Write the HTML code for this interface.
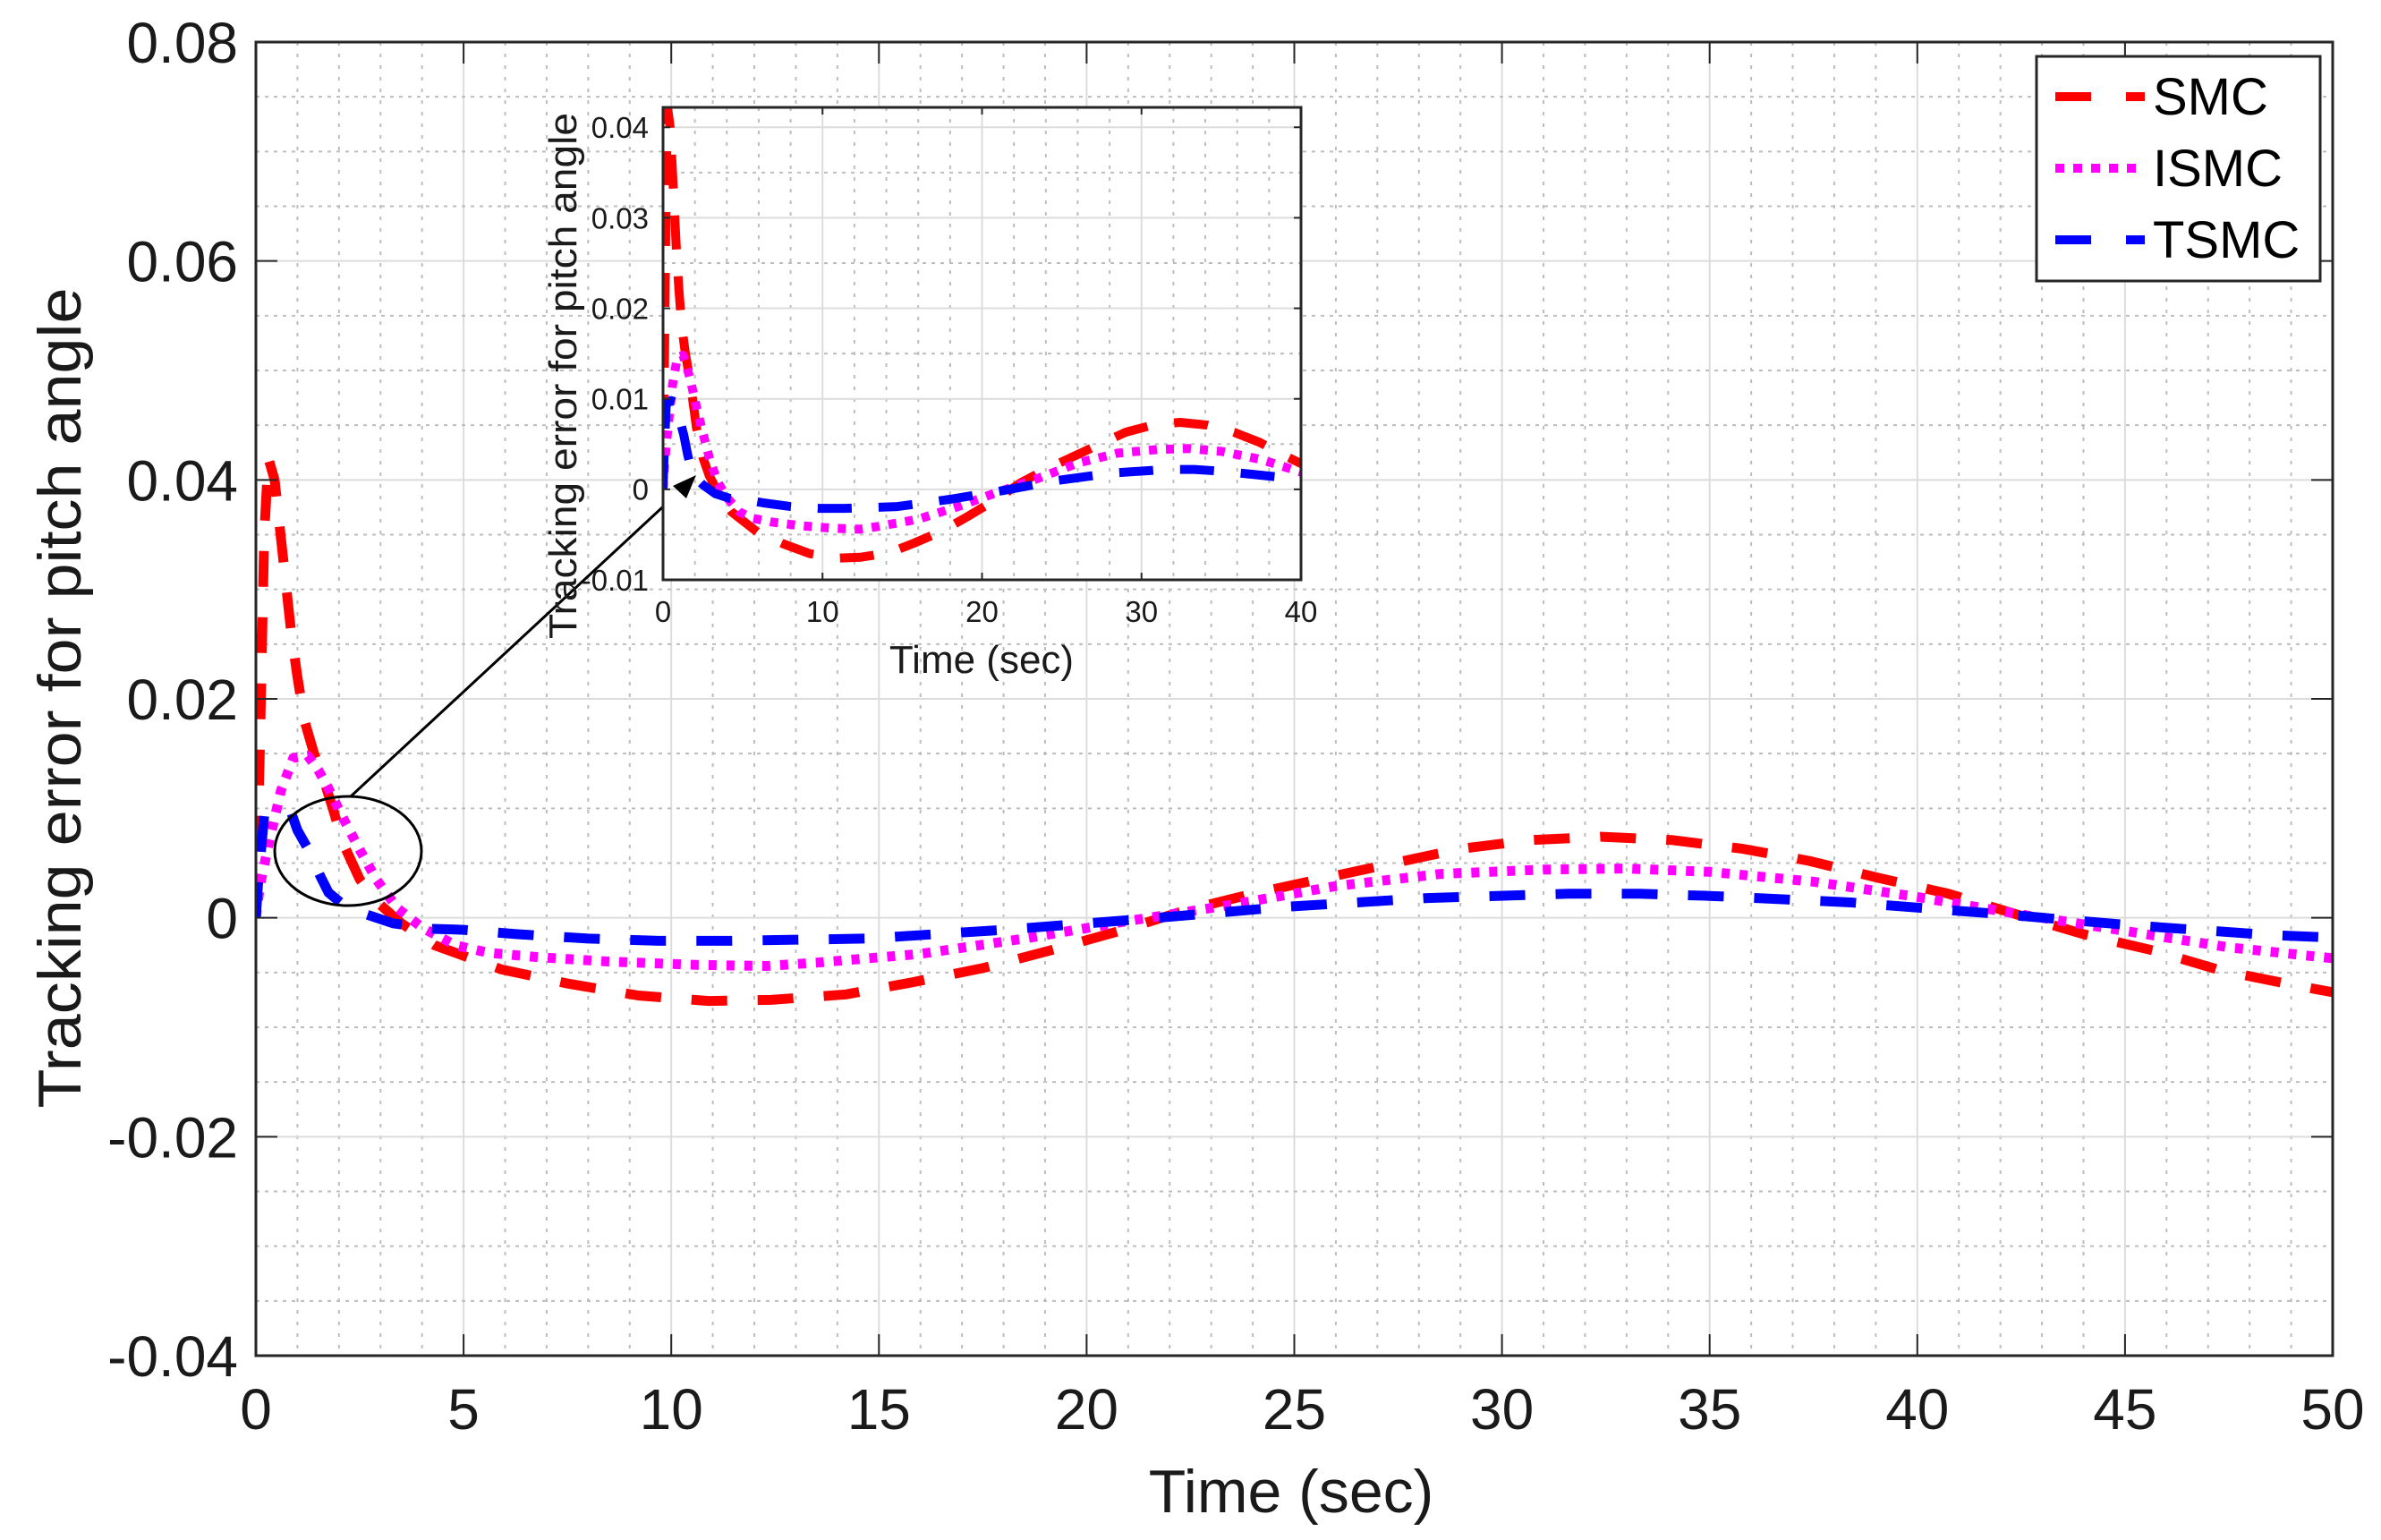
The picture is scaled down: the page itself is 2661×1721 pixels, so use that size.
<!DOCTYPE html>
<html><head><meta charset="utf-8"><style>
html,body{margin:0;padding:0;background:#fff;}
svg{display:block;font-family:"Liberation Sans",Arial,sans-serif;}
</style></head><body>
<svg id="chart" width="2661" height="1721" viewBox="0 0 2661 1721" xmlns="http://www.w3.org/2000/svg">
<defs>
<clipPath id="clipMain"><rect x="286" y="47" width="2321" height="1468"/></clipPath>
<clipPath id="clipInset"><rect x="741" y="120" width="713" height="528"/></clipPath>
</defs>
<rect width="2661" height="1721" fill="#fff"/>
<g id="mainGrid"></g>
<g id="mainSeries" clip-path="url(#clipMain)"></g>
<rect x="286" y="47" width="2321" height="1468" fill="none" stroke="#262626" stroke-width="3"/>
<g id="mainTicks"></g>
<text x="1443" y="1690" font-size="68" text-anchor="middle" fill="#1a1a1a">Time (sec)</text>
<text transform="translate(90,780) rotate(-90)" font-size="68" text-anchor="middle" fill="#1a1a1a" textLength="917" lengthAdjust="spacingAndGlyphs">Tracking error for pitch angle</text>

<g>
<ellipse cx="389" cy="951" rx="82" ry="61" fill="none" stroke="#000" stroke-width="3"/>
<line x1="392" y1="890" x2="765" y2="544" stroke="#000" stroke-width="3"/>
<polygon points="778,531 752,543 767,557" fill="#000"/>
</g>

<rect x="741" y="120" width="713" height="528" fill="#fff"/>
<g id="insetGrid"></g>
<g id="insetSeries" clip-path="url(#clipInset)"></g>
<rect x="741" y="120" width="713" height="528" fill="none" stroke="#262626" stroke-width="3"/>
<g id="insetTicks"></g>
<text x="1097" y="752" font-size="44" text-anchor="middle" fill="#1a1a1a">Time (sec)</text>
<text transform="translate(644,420) rotate(-90)" font-size="44" text-anchor="middle" fill="#1a1a1a" textLength="588" lengthAdjust="spacingAndGlyphs">Tracking error for pitch angle</text>
<polygon points="778,531 752,543 767,557" fill="#000"/>

<g>
<rect x="2276" y="63" width="317" height="251" fill="#fff" stroke="#262626" stroke-width="3"/>
<line x1="2297" y1="108" x2="2397" y2="108" stroke="#ff0000" stroke-width="10" stroke-dasharray="40 39"/>
<text x="2406" y="128" font-size="58" fill="#000">SMC</text>
<line x1="2297" y1="188" x2="2397" y2="188" stroke="#ff00ff" stroke-width="10" stroke-dasharray="10 10"/>
<text x="2406" y="208" font-size="58" fill="#000">ISMC</text>
<line x1="2297" y1="268" x2="2397" y2="268" stroke="#0000ff" stroke-width="10" stroke-dasharray="40 39"/>
<text x="2406" y="288" font-size="58" fill="#000">TSMC</text>
</g>
</svg>
<script>
const smcT = [0,0.05,0.1,0.2,0.3,0.45,0.65,0.85,1.0,1.17,1.4,1.6,1.85,2.1,2.5,2.9,3.5,4.3,5.9,7.5,9.2,10.9,12.4,14.2,15.8,17.5,19.1,20.8,22.4,24,25.7,27.4,29,30.7,32.4,34.1,35.8,37.4,39,40.75,42.4,44,45.7,47.3,49,50];
const smcV = [0,0.008,0.016,0.035,0.042,0.04,0.033,0.026,0.022,0.018,0.015,0.013,0.01,0.0068,0.0035,0.0015,-0.0005,-0.0025,-0.0047,-0.006,-0.0071,-0.0076,-0.0075,-0.007,-0.0059,-0.0046,-0.003,-0.0012,0.0007,0.0022,0.0036,0.005,0.0063,0.0071,0.0074,0.0071,0.0063,0.0052,0.0037,0.0022,0.0003,-0.0015,-0.003,-0.0048,-0.0061,-0.0068];
const ismcT = [0,0.1,0.3,0.6,0.9,1.25,1.5,1.75,2.1,2.5,2.9,3.4,4,4.8,5.6,6.8,8.5,10.6,12.3,13.5,16,18.5,21,23.5,26,28.5,31,33,35,37.5,40,42.5,45,47.5,50];
const ismcV = [0,0.003,0.0066,0.0116,0.0146,0.0148,0.0135,0.0118,0.0091,0.0062,0.0035,0.0009,-0.0009,-0.0025,-0.0032,-0.0036,-0.004,-0.0043,-0.0044,-0.0041,-0.0033,-0.0019,-0.0003,0.0012,0.0029,0.004,0.0044,0.0045,0.0042,0.0033,0.0019,0.0003,-0.0012,-0.0027,-0.0037];
const tsmcT = [0,0.05,0.2,0.5,0.85,1.0,1.3,1.55,1.75,2.1,2.5,3.3,4.2,5,6.3,8,9.7,11.4,14.7,18,21.4,24.8,28.2,31.6,33.3,35,38.4,41.8,45.2,48.6,50];
const tsmcV = [0,0.003,0.0094,0.0098,0.0096,0.008,0.006,0.0038,0.0023,0.0012,0.0005,-0.0005,-0.001,-0.0011,-0.0015,-0.0019,-0.0021,-0.0021,-0.0019,-0.0011,-0.0001,0.001,0.0018,0.0022,0.0022,0.002,0.0014,0.0004,-0.0007,-0.0016,-0.0018];
const mainXTicks = [0,5,10,15,20,25,30,35,40,45,50];
const mainYTicks = [0.08,0.06,0.04,0.02,0,-0.02,-0.04];
const mainYLabels = ["0.08","0.06","0.04","0.02","0","-0.02","-0.04"];
const insetXTicks = [0,10,20,30,40];
const insetYTicks = [0.04,0.03,0.02,0.01,0,-0.01];
const insetYLabels = ["0.04","0.03","0.02","0.01","0","-0.01"];

const NS = "http://www.w3.org/2000/svg";
function mk(tag, attrs, parent){const e=document.createElementNS(NS,tag);for(const k in attrs)e.setAttribute(k,attrs[k]);parent.appendChild(e);return e;}

function makeAxes(x0,x1,y0,y1,tmin,tmax,vmin,vmax){
  return {x:t=>x0+(t-tmin)/(tmax-tmin)*(x1-x0), y:v=>y1-(v-vmin)/(vmax-vmin)*(y1-y0)};
}
const M = makeAxes(286,2607,47,1515,0,50,-0.04,0.08);
const I = makeAxes(741,1454,120,648,0,40,-0.01,0.0422);

function grid(g,ax,x0,x1,y0,y1,tmin,tmax,tstep,tminor,vmin,vmax,vstep,vminor,pre){
  for(let t=tmin;t<=tmax+1e-9;t+=tminor){
    const isMaj=Math.abs(t/tstep-Math.round(t/tstep))<1e-6;
    const l=mk('line',{x1:ax.x(t),x2:ax.x(t),y1:y0,y2:y1,stroke:isMaj?'#dcdcdc':'#bdbdbd','stroke-width':2,'stroke-dasharray':isMaj?'none':'4 9'},g);
    
    
  }
  const n=Math.round((vmax-vmin)/vminor);
  for(let i=0;i<=n;i++){
    const v=vmin+i*vminor; const y=ax.y(v); if(y<y0-1)continue;
    const isMaj=Math.abs(v/vstep-Math.round(v/vstep))<1e-6;
    const l=mk('line',{x1:x0,x2:x1,y1:y,y2:y,stroke:isMaj?'#dcdcdc':'#bdbdbd','stroke-width':2,'stroke-dasharray':isMaj?'none':'4 6'},g);
    
    
  }
}
grid(document.getElementById('mainGrid'),M,286,2607,47,1515,0,50,5,1,-0.04,0.08,0.02,0.005,'main-');
grid(document.getElementById('insetGrid'),I,741,1454,120,648,0,40,10,2,-0.01,0.04,0.01,0.005,'inset-');

function ticks(g,ax,xT,yT,yL,x0,x1,y0,y1,len,fs,xOff,yOff,pre){
  xT.forEach(t=>{
    const x=ax.x(t);
    let l=mk('line',{x1:x,x2:x,y1:y1,y2:y1-len,stroke:'#262626','stroke-width':2},g);
    
    
    l=mk('line',{x1:x,x2:x,y1:y0,y2:y0+len,stroke:'#262626','stroke-width':2},g);
    
    
    const tx=mk('text',{x:x,y:y1+yOff,'font-size':fs,'text-anchor':'middle',fill:'#1a1a1a'},g);
    tx.textContent=String(t);
    
    
  });
  yT.forEach((v,i)=>{
    const y=ax.y(v);
    let l=mk('line',{x1:x0,x2:x0+len,y1:y,y2:y,stroke:'#262626','stroke-width':2},g);
    
    
    l=mk('line',{x1:x1,x2:x1-len,y1:y,y2:y,stroke:'#262626','stroke-width':2},g);
    
    
    const tx=mk('text',{x:x0-xOff,y:y+fs*0.36,'font-size':fs,'text-anchor':'end',fill:'#1a1a1a'},g);
    tx.textContent=yL[i];
    
    
  });
}
ticks(document.getElementById('mainTicks'),M,mainXTicks,mainYTicks,mainYLabels,286,2607,47,1515,24,64,20,82,'main-');
ticks(document.getElementById('insetTicks'),I,insetXTicks,insetYTicks,insetYLabels,741,1454,120,648,8,33,16,47,'inset-');

function series(g,ax,T,V,color,dash,w,name,tmax){
  let d='';
  for(let i=0;i<T.length;i++){ if(T[i]>tmax+5)break; d+=(i?'L':'M')+ax.x(T[i]).toFixed(1)+','+ax.y(V[i]).toFixed(1); }
  const p=mk('path',{d:d,fill:'none',stroke:color,'stroke-width':w,'stroke-dasharray':dash,'stroke-linejoin':'round'},g);
  
  
}
const gm=document.getElementById('mainSeries'), gi=document.getElementById('insetSeries');
series(gm,M,smcT,smcV,'#ff0000','40 34',11,'smc-line',50);
series(gm,M,ismcT,ismcV,'#ff00ff','9 11',11,'ismc-line',50);
series(gm,M,tsmcT,tsmcV,'#0000ff','40 34',11,'tsmc-line',50);
series(gi,I,smcT,smcV,'#ff0000','38 30',10,'inset-smc-line',40);
series(gi,I,ismcT,ismcV,'#ff00ff','9 10',10,'inset-ismc-line',40);
series(gi,I,tsmcT,tsmcV,'#0000ff','38 30',10,'inset-tsmc-line',40);
</script>
</body></html>
